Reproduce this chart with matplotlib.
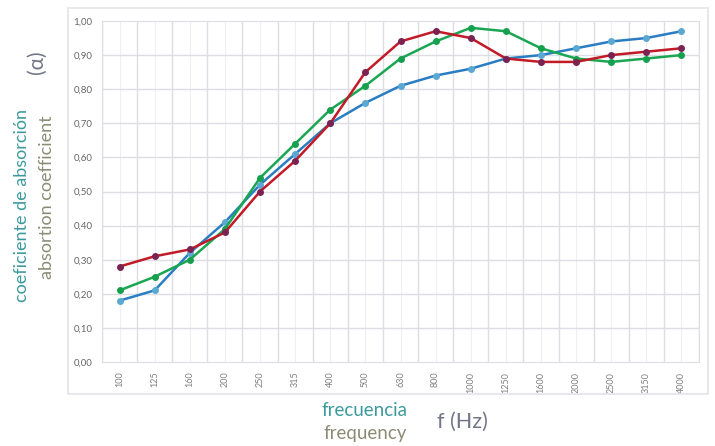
import matplotlib.pyplot as plt
import numpy as np
from matplotlib.patches import Rectangle

# frequency bands (Hz) and absorption coefficients
freqs = ['100', '125', '160', '200', '250', '315', '400', '500', '630', '800',
         '1000', '1250', '1600', '2000', '2500', '3150', '4000']
blue = [0.18, 0.21, 0.32, 0.41, 0.52, 0.61, 0.70, 0.76, 0.81, 0.84,
        0.86, 0.89, 0.90, 0.92, 0.94, 0.95, 0.97]
green = [0.21, 0.25, 0.30, 0.39, 0.54, 0.64, 0.74, 0.81, 0.89, 0.94,
         0.98, 0.97, 0.92, 0.89, 0.88, 0.89, 0.90]
red = [0.28, 0.31, 0.33, 0.38, 0.50, 0.59, 0.70, 0.85, 0.94, 0.97,
       0.95, 0.89, 0.88, 0.88, 0.90, 0.91, 0.92]

plt.rcParams['font.family'] = ['Lato', 'DejaVu Sans']

fig = plt.figure(figsize=(7.15, 4.46), dpi=100)

# outer frame
fig.patches.append(Rectangle((68 / 715, 1 - 394 / 446), 640 / 715, 386 / 446,
                             transform=fig.transFigure, fill=False,
                             edgecolor='#e3e4e8', linewidth=1.2))

ax = fig.add_axes([102 / 715, 1 - 362 / 446, 597 / 715, 341 / 446])
x = np.arange(len(freqs))

# grid: darker lines between bands, lighter at band centres
for xb in np.arange(-0.5, len(freqs), 1.0):
    ax.axvline(xb, color='#dcdee3', lw=1.0, zorder=0)
for xc in x:
    ax.axvline(xc, color='#eeeff2', lw=0.8, zorder=0)
for yv in np.arange(0.1, 1.0, 0.1):
    ax.axhline(yv, color='#dcdee3', lw=1.0, zorder=0)

ax.plot(x, blue, color='#2a7dc2', lw=1.8, marker='o', ms=4,
        mfc='#5ba8d2', mec='#5ba8d2', zorder=3)
ax.plot(x, green, color='#1aa653', lw=1.8, marker='o', ms=4,
        mfc='#16a04e', mec='#16a04e', zorder=3)
ax.plot(x, red, color='#c21a26', lw=1.8, marker='o', ms=4,
        mfc='#7a2352', mec='#7a2352', zorder=4)

ax.set_xlim(-0.5, len(freqs) - 0.5)
ax.set_ylim(0, 1.0)
ax.set_xticks(x)
ax.set_xticklabels(freqs, rotation=90, fontsize=6.5, color='#808080')
yt = np.arange(0, 1.01, 0.1)
ax.set_yticks(yt)
ax.set_yticklabels([f'{v:.2f}'.replace('.', ',') for v in yt],
                   fontsize=7, color='#666666')
ax.tick_params(length=0, pad=7)
for s in ax.spines.values():
    s.set_color('#dcdee3')

# axis titles
fig.text(22 / 715, 1 - 205 / 446, 'coeficiente de absorción', rotation=90,
         ha='center', va='center', fontsize=13, color='#3c9a9c')
fig.text(47 / 715, 1 - 197 / 446, 'absortion coefficient', rotation=90,
         ha='center', va='center', fontsize=13, color='#8c8b73')
fig.text(37 / 715, 1 - 62 / 446, '(α)', rotation=90,
         ha='center', va='center', fontsize=15, color='#717586')
fig.text(365 / 715, 1 - 410 / 446, 'frecuencia', ha='center', va='center',
         fontsize=13.5, color='#3c9a9c')
fig.text(365 / 715, 1 - 433 / 446, 'frequency', ha='center', va='center',
         fontsize=13.5, color='#8c8b73')
fig.text(462 / 715, 1 - 422 / 446, 'f (Hz)', ha='center', va='center',
         fontsize=15.5, color='#717586')

fig.savefig('out.png', dpi=100)
